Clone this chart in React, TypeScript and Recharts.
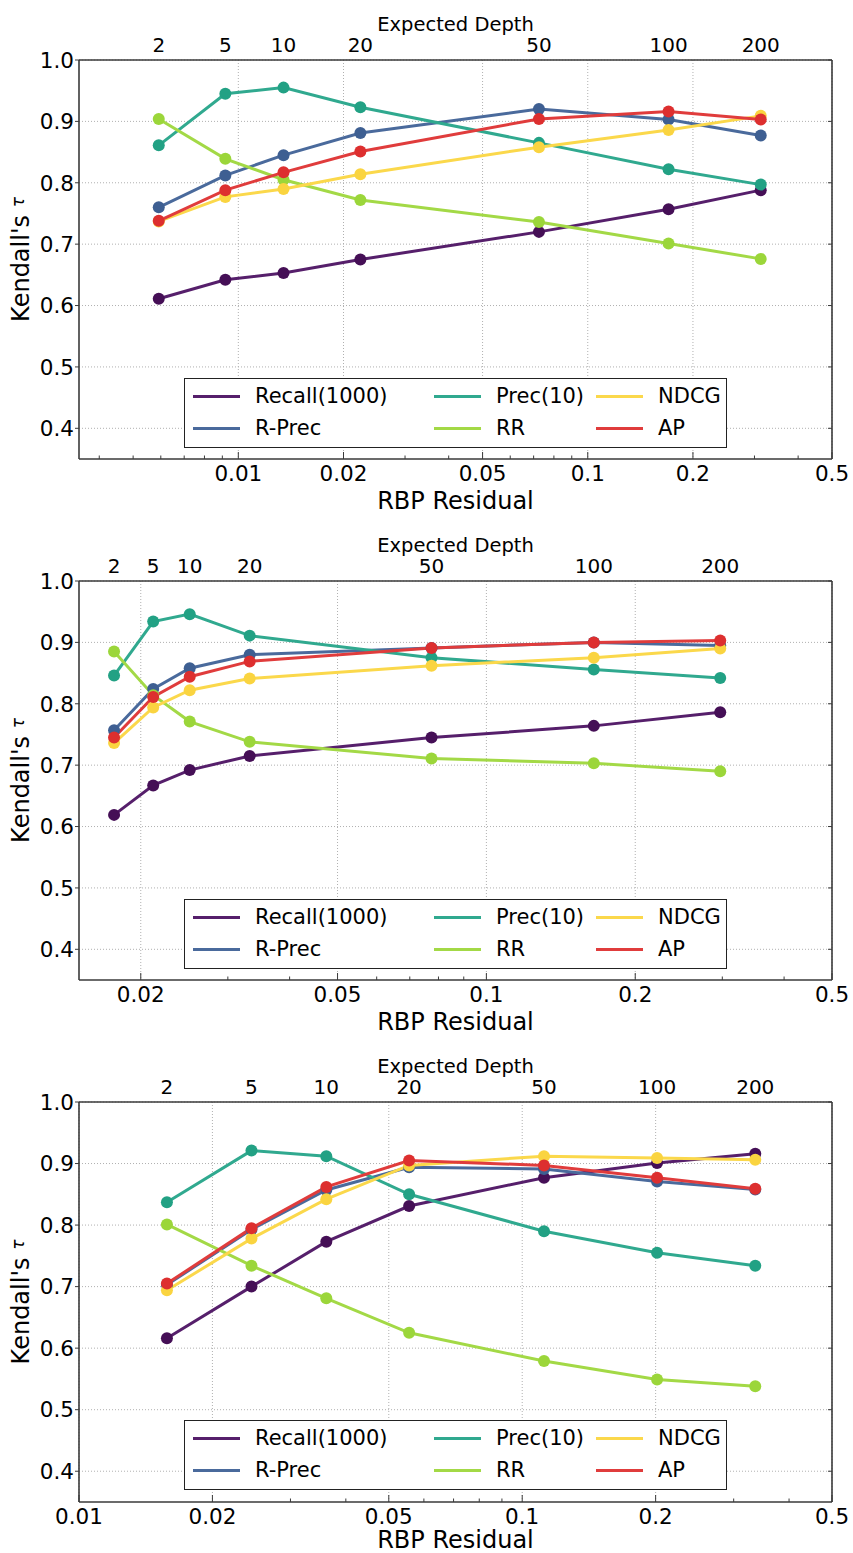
import { LineChart, Line, XAxis, YAxis, CartesianGrid, Legend, Label } from "recharts";

// ── Data ──────────────────────────────────────────────────────────────────────

const depthLabels = ["2", "5", "10", "20", "50", "100", "200"];
const yTicks = [0.4, 0.5, 0.6, 0.7, 0.8, 0.9, 1.0];

// top panel
const residuals1 = [0.00592, 0.00918, 0.01347, 0.02235, 0.0725, 0.1703, 0.3126];
const recall1 = [0.611, 0.642, 0.653, 0.675, 0.72, 0.757, 0.788];
const rprec1 = [0.76, 0.812, 0.845, 0.881, 0.92, 0.903, 0.877];
const prec10_1 = [0.861, 0.945, 0.955, 0.923, 0.865, 0.822, 0.797];
const rr1 = [0.904, 0.839, 0.805, 0.772, 0.736, 0.701, 0.676];
const ndcg1 = [0.737, 0.777, 0.79, 0.814, 0.858, 0.886, 0.909];
const ap1 = [0.738, 0.788, 0.817, 0.851, 0.904, 0.916, 0.903];

// middle panel
const residuals2 = [0.01766, 0.02119, 0.02512, 0.03321, 0.07745, 0.1649, 0.2971];
const recall2 = [0.619, 0.667, 0.692, 0.715, 0.745, 0.764, 0.786];
const rprec2 = [0.757, 0.824, 0.858, 0.88, 0.891, 0.9, 0.895];
const prec10_2 = [0.846, 0.934, 0.946, 0.911, 0.875, 0.856, 0.842];
const rr2 = [0.885, 0.814, 0.771, 0.738, 0.711, 0.703, 0.69];
const ndcg2 = [0.736, 0.794, 0.822, 0.841, 0.862, 0.875, 0.89];
const ap2 = [0.745, 0.811, 0.844, 0.869, 0.891, 0.9, 0.903];

// bottom panel
const residuals3 = [0.01579, 0.0245, 0.03614, 0.05557, 0.112, 0.2015, 0.3356];
const recall3 = [0.616, 0.7, 0.773, 0.831, 0.877, 0.901, 0.916];
const rprec3 = [0.703, 0.793, 0.857, 0.894, 0.891, 0.871, 0.858];
const prec10_3 = [0.837, 0.921, 0.912, 0.85, 0.79, 0.755, 0.734];
const rr3 = [0.801, 0.734, 0.681, 0.625, 0.579, 0.549, 0.538];
const ndcg3 = [0.694, 0.778, 0.842, 0.897, 0.912, 0.909, 0.906];
const ap3 = [0.705, 0.795, 0.862, 0.905, 0.897, 0.877, 0.859];

const majorsA = [0.01, 0.02, 0.05, 0.1, 0.2, 0.5];
const minorsA = [0.004, 0.005, 0.006, 0.007, 0.008, 0.009, 0.03, 0.04, 0.06, 0.07, 0.08, 0.09, 0.3, 0.4];
const majorsB = [0.02, 0.05, 0.1, 0.2, 0.5];
const minorsB = [0.03, 0.04, 0.06, 0.07, 0.08, 0.09, 0.3, 0.4];
const minorsC = [0.03, 0.04, 0.06, 0.07, 0.08, 0.09, 0.3, 0.4];

const SERIES = [
  { key: "recall", name: "Recall(1000)", line: "#561f6b", dot: "#450f56" },
  { key: "rprec", name: "R-Prec", line: "#4a6a9c", dot: "#3e5f92" },
  { key: "prec10", name: "Prec(10)", line: "#30a98f", dot: "#22a184" },
  { key: "rr", name: "RR", line: "#a3d946", dot: "#9bd63a" },
  { key: "ndcg", name: "NDCG", line: "#fbd84b", dot: "#fad440" },
  { key: "ap", name: "AP", line: "#e03c3c", dot: "#dd2f2f" },
];

const AXIS = "#3a3a3a";
const FONT = "'DejaVu Sans', sans-serif";

// ── Legend ────────────────────────────────────────────────────────────────────

const legendCols = [8, 249, 411];

function MetricLegend() {
  return (
    <div
      style={{
        position: "relative",
        width: 543,
        height: 70,
        boxSizing: "border-box",
        border: `1px solid #222`,
        background: "#fff",
        fontFamily: FONT,
      }}
    >
      {SERIES.map((s, i) => (
        <div
          key={s.key}
          style={{
            position: "absolute",
            left: legendCols[Math.floor(i / 2)],
            top: (i % 2) * 32 + 4,
            height: 26,
            display: "flex",
            alignItems: "center",
            fontSize: 21,
            color: "#000",
            whiteSpace: "nowrap",
          }}
        >
          <span style={{ width: 47, height: 3, background: s.line, marginRight: 15 }} />
          {s.name}
        </div>
      ))}
    </div>
  );
}

// ── One panel ─────────────────────────────────────────────────────────────────

interface PanelProps {
  residuals: number[];
  values: Record<string, number[]>;
  xMin: number;
  majors: number[];
  minors: number[];
  height: number;
  bottomHeight: number;
  titleOffset: number;
}

function Panel({ residuals, values, xMin, majors, minors, height, bottomHeight, titleOffset }: PanelProps) {
  const data = residuals.map((x, i) => {
    const row: Record<string, number> = { x };
    SERIES.forEach(s => (row[s.key] = values[s.key][i]));
    return row;
  });
  const bottomTicks = [...majors, ...minors].sort((a, b) => a - b);

  const bottomTick = (props: any) => {
    const { x, y, payload } = props;
    const major = majors.includes(payload.value);
    return (
      <g>
        <line x1={x} x2={x} y1={y} y2={y - (major ? 7 : 3.5)} stroke={AXIS} strokeWidth={1} />
        {major && (
          <text x={x} y={y + 22} textAnchor="middle" fontSize={21.5} fill="#000">
            {String(payload.value)}
          </text>
        )}
      </g>
    );
  };

  const topTick = (props: any) => {
    const { x, y, index } = props;
    return (
      <text x={x} y={y - 8} textAnchor="middle" fontSize={20} fill="#000">
        {depthLabels[index]}
      </text>
    );
  };

  const leftTick = (props: any) => {
    const { x, y, payload } = props;
    return (
      <g>
        <line x1={x - 4} x2={x} y1={y} y2={y} stroke={AXIS} strokeWidth={1} />
        <text x={x - 5} y={y} dy="0.36em" textAnchor="end" fontSize={21.5} fill="#000">
          {payload.value.toFixed(1)}
        </text>
      </g>
    );
  };

  const rightTick = (props: any) => {
    const { x, y } = props;
    return <line x1={x - 4} x2={x} y1={y} y2={y} stroke={AXIS} strokeWidth={1} />;
  };

  const axisLine = { stroke: AXIS, strokeWidth: 1.6 };

  return (
    <LineChart width={853} height={height} data={data} margin={{ top: 0, right: 0, bottom: 0, left: 0 }}>
      <CartesianGrid
        stroke="#b0b0b0"
        strokeDasharray="1 2"
        verticalValues={majors}
        horizontalValues={yTicks}
      />

      <XAxis
        dataKey="x"
        type="number"
        scale="log"
        domain={[xMin, 0.5]}
        allowDataOverflow
        ticks={bottomTicks}
        interval={0}
        height={bottomHeight}
        tickSize={0}
        tickMargin={0}
        tickLine={false}
        axisLine={axisLine}
        tick={bottomTick}
      >
        <Label
          content={({ viewBox }: any) => (
            <text
              x={viewBox.x + viewBox.width / 2}
              y={viewBox.y + titleOffset}
              textAnchor="middle"
              fontSize={24}
              fill="#000"
            >
              RBP Residual
            </text>
          )}
        />
      </XAxis>
      <XAxis
        xAxisId="top"
        orientation="top"
        dataKey="x"
        type="number"
        scale="log"
        domain={[xMin, 0.5]}
        allowDataOverflow
        ticks={residuals}
        interval={0}
        height={60}
        tickSize={0}
        tickMargin={0}
        tickLine={false}
        axisLine={axisLine}
        tick={topTick}
      >
        <Label
          content={({ viewBox }: any) => (
            <text x={viewBox.x + viewBox.width / 2} y={viewBox.y + 31} textAnchor="middle" fontSize={19.5} fill="#000">
              Expected Depth
            </text>
          )}
        />
      </XAxis>

      <YAxis
        type="number"
        domain={[0.35, 1.0]}
        allowDataOverflow
        ticks={yTicks}
        interval={0}
        width={79}
        tickSize={0}
        tickMargin={0}
        tickLine={false}
        axisLine={axisLine}
        tick={leftTick}
      >
        <Label
          content={({ viewBox }: any) => {
            const cx = 20;
            const cy = viewBox.y + viewBox.height / 2;
            return (
              <text
                x={cx}
                y={cy}
                transform={`rotate(-90 ${cx} ${cy})`}
                textAnchor="middle"
                dy="0.36em"
                fontSize={24}
                fill="#000"
              >
                Kendall's <tspan fontStyle="italic" fontSize={17} dy="-0.25em">τ</tspan>
              </text>
            );
          }}
        />
      </YAxis>
      <YAxis
        yAxisId="right"
        orientation="right"
        type="number"
        domain={[0.35, 1.0]}
        allowDataOverflow
        ticks={yTicks}
        interval={0}
        width={21}
        tickSize={0}
        tickMargin={0}
        tickLine={false}
        axisLine={axisLine}
        tick={rightTick}
      />

      {SERIES.map(s => (
        <Line
          key={s.key}
          type="linear"
          dataKey={s.key}
          name={s.name}
          stroke={s.line}
          strokeWidth={3}
          dot={{ r: 6, fill: s.dot, stroke: s.dot, strokeWidth: 0 }}
          activeDot={false}
          isAnimationActive={false}
        />
      ))}

      <Legend
        layout="vertical"
        align="center"
        verticalAlign="middle"
        wrapperStyle={{ left: 184, top: 378, width: 543, height: 70 }}
        content={() => <MetricLegend />}
      />
    </LineChart>
  );
}

// ── Page ──────────────────────────────────────────────────────────────────────

export default function App() {
  return (
    <div
      style={{
        position: "absolute",
        left: 0,
        top: 0,
        width: 853,
        height: 1553,
        overflow: "hidden",
        background: "#fff",
        fontFamily: FONT,
      }}
    >
      <Panel
        residuals={residuals1}
        values={{ recall: recall1, rprec: rprec1, prec10: prec10_1, rr: rr1, ndcg: ndcg1, ap: ap1 }}
        xMin={0.0035}
        majors={majorsA}
        minors={minorsA}
        height={521}
        bottomHeight={62}
        titleOffset={50}
      />
      <Panel
        residuals={residuals2}
        values={{ recall: recall2, rprec: rprec2, prec10: prec10_2, rr: rr2, ndcg: ndcg2, ap: ap2 }}
        xMin={0.015}
        majors={majorsB}
        minors={minorsB}
        height={521}
        bottomHeight={62}
        titleOffset={50}
      />
      <Panel
        residuals={residuals3}
        values={{ recall: recall3, rprec: rprec3, prec10: prec10_3, rr: rr3, ndcg: ndcg3, ap: ap3 }}
        xMin={0.01}
        majors={majorsA}
        minors={minorsC}
        height={511}
        bottomHeight={51}
        titleOffset={46}
      />
    </div>
  );
}
